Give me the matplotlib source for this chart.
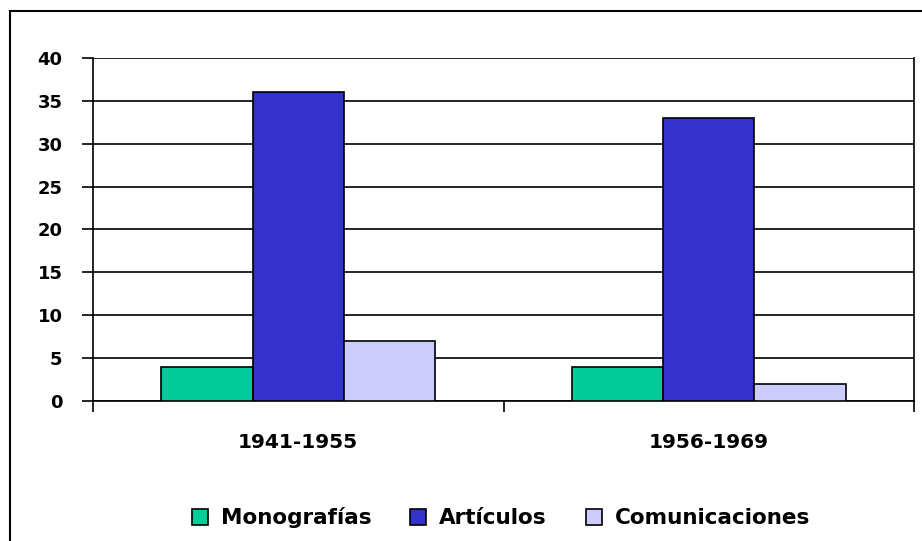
import matplotlib.pyplot as plt
import numpy as np
from matplotlib.patches import Rectangle

periods = ["1941-1955", "1956-1969"]
series = ["Monografías", "Artículos", "Comunicaciones"]
monografias = [4, 4]
articulos = [36, 33]
comunicaciones = [7, 2]
colors = ["#00CC99", "#3333CC", "#CCCCFF"]
yticks = [0, 5, 10, 15, 20, 25, 30, 35, 40]

plt.rcParams['font.family'] = ['DejaVu Sans']
plt.rcParams['font.weight'] = 'bold'

fig = plt.figure(figsize=(9.22, 5.41), dpi=100)
W, H = 922, 541
ax = fig.add_axes([93/W, 1-401/H, (914-93)/W, (401-58)/H])

x = np.arange(len(periods))
w = 1/4.5
for i, (vals, name) in enumerate(zip([monografias, articulos, comunicaciones], series)):
    ax.bar(x + (i-1)*w, vals, w, color=colors[i], edgecolor="black", linewidth=1.2,
           label=name, zorder=3)

ax.set_xlim(-0.5, 1.5)
ax.set_ylim(0, 40)
ax.set_yticks(yticks)
ax.set_yticklabels([str(v) for v in yticks], fontsize=13, fontweight='bold')
ax.yaxis.grid(True, color="black", linewidth=1.2, zorder=0)
ax.tick_params(axis='y', direction='out', length=8, width=1.2, pad=14)

# category boundary ticks
ax.set_xticks([-0.5, 0.5, 1.5])
ax.set_xticklabels([])
ax.tick_params(axis='x', direction='out', length=8, width=1.2)
for xi, p in zip(x, periods):
    ax.text(xi, -0.12, p, transform=ax.get_xaxis_transform(), ha='center', va='center',
            fontsize=14.5, fontweight='bold')

ax.spines['top'].set_visible(False)
for s in ['left', 'right', 'bottom']:
    ax.spines[s].set_linewidth(1.2)

# outer chart border
fig.patches.append(Rectangle((10/W, -0.1), 1.2, 1.1 - 11/H, transform=fig.transFigure,
                             fill=False, edgecolor="black", linewidth=1.5))

leg = fig.legend(loc='center', bbox_to_anchor=(501/W, 1-518/H), ncol=3, frameon=False,
                 prop={'size': 15.5, 'weight': 'bold'}, handlelength=0.75, handleheight=0.75,
                 handletextpad=0.6, columnspacing=1.8)

fig.savefig("out.png", dpi=100)
